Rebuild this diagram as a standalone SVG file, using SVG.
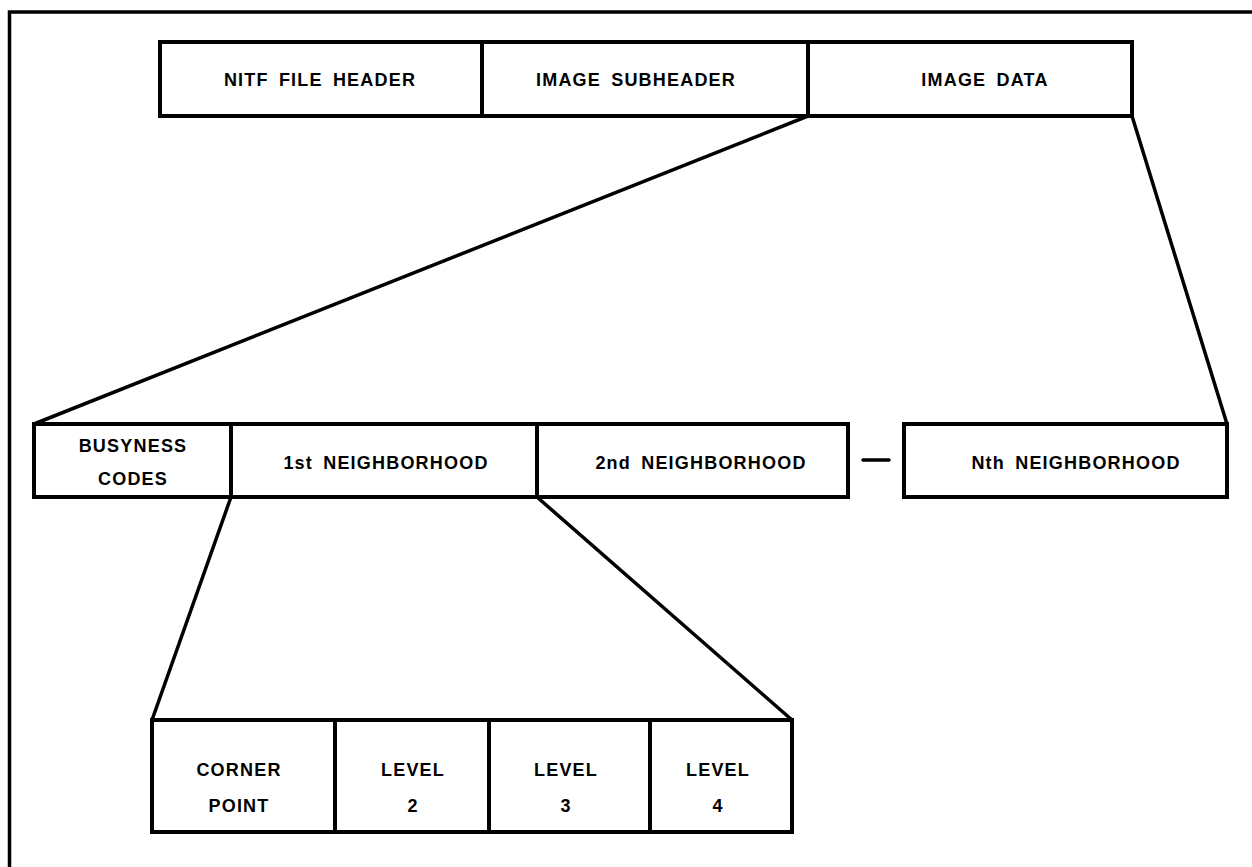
<svg xmlns="http://www.w3.org/2000/svg" width="1252" height="867" viewBox="0 0 1252 867">
<style>
.b{fill:#fff;stroke:#000;stroke-width:4;stroke-linejoin:miter}
.c{stroke:#000;stroke-width:3.5;fill:none;stroke-linecap:round}
text{font-family:"Liberation Sans",Arial,sans-serif;font-weight:bold;font-size:18px;letter-spacing:1.2px;word-spacing:4px;text-anchor:middle;fill:#000}
</style>
<rect width="1252" height="867" fill="#fff"/>
<path d="M9.5,867 V12 H1252" fill="none" stroke="#000" stroke-width="3.5"/>
<g id="connectors">
<line class="c" x1="808" y1="116" x2="34" y2="424"/>
<line class="c" x1="1132" y1="116" x2="1227" y2="424"/>
<line class="c" x1="231" y1="497" x2="152" y2="720"/>
<line class="c" x1="537" y1="497" x2="792" y2="720"/>
<line class="c" x1="863" y1="460" x2="889" y2="460" stroke-width="4.5"/>
</g>
<g id="nitf-file-header"><rect class="b" x="160" y="42" width="322" height="74"/><text x="320" y="86">NITF FILE HEADER</text></g>
<g id="image-subheader"><rect class="b" x="482" y="42" width="326" height="74"/><text x="636" y="86">IMAGE SUBHEADER</text></g>
<g id="image-data"><rect class="b" x="808" y="42" width="324" height="74"/><text x="985" y="86">IMAGE DATA</text></g>
<g id="busyness-codes"><rect class="b" x="34" y="424" width="197" height="73"/><text x="133" y="452">BUSYNESS</text><text x="133" y="485">CODES</text></g>
<g id="neighborhood-1"><rect class="b" x="231" y="424" width="306" height="73"/><text x="386" y="469">1st NEIGHBORHOOD</text></g>
<g id="neighborhood-2"><rect class="b" x="537" y="424" width="311" height="73"/><text x="701" y="469">2nd NEIGHBORHOOD</text></g>
<g id="neighborhood-n"><rect class="b" x="904" y="424" width="323" height="73"/><text x="1076" y="469">Nth NEIGHBORHOOD</text></g>
<g id="corner-point"><rect class="b" x="152" y="720" width="183" height="112"/><text x="239" y="776">CORNER</text><text x="239" y="812">POINT</text></g>
<g id="level-2"><rect class="b" x="335" y="720" width="154" height="112"/><text x="413" y="776">LEVEL</text><text x="413" y="812">2</text></g>
<g id="level-3"><rect class="b" x="489" y="720" width="161" height="112"/><text x="566" y="776">LEVEL</text><text x="566" y="812">3</text></g>
<g id="level-4"><rect class="b" x="650" y="720" width="142" height="112"/><text x="718" y="776">LEVEL</text><text x="718" y="812">4</text></g>
</svg>
